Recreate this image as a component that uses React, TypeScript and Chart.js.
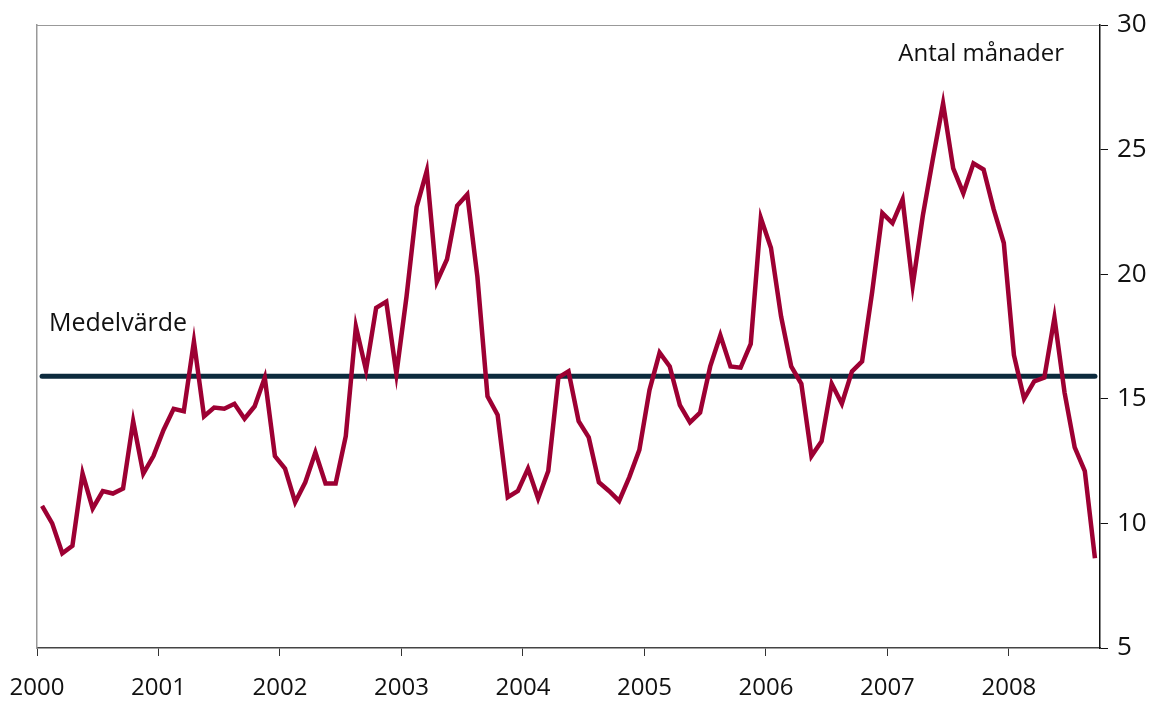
import React, { useEffect, useRef } from "react";
import { Chart, registerables } from "chart.js";

Chart.register(...registerables);

const yearLabels = ["2000", "2001", "2002", "2003", "2004", "2005", "2006", "2007", "2008"];
const yTicks = [5, 10, 15, 20, 25, 30];
const seriesLabel = "Antal månader";
const meanLabel = "Medelvärde";
const meanValue = 15.9;

// Monthly values, Jan 2000 .. Sep 2008
const values = [
  10.7, 10.0, 8.8, 9.1, 12.0, 10.6, 11.3, 11.2, 11.4, 14.1, 12.0, 12.7,
  13.75, 14.6, 14.5, 17.3, 14.3, 14.65, 14.6, 14.8, 14.2, 14.7, 15.85, 12.7,
  12.2, 10.85, 11.65, 12.85, 11.6, 11.6, 13.5, 17.9, 16.15, 18.65, 18.9, 16.0,
  19.1, 22.7, 24.15, 19.7, 20.6, 22.75, 23.2, 19.9, 15.1, 14.35, 11.05, 11.3,
  12.2, 11.0, 12.1, 15.85, 16.1, 14.1, 13.45, 11.65, 11.3, 10.9, 11.85, 12.95,
  15.35, 16.85, 16.3, 14.75, 14.05, 14.45, 16.3, 17.55, 16.3, 16.25, 17.2, 22.25,
  21.05, 18.3, 16.3, 15.6, 12.7, 13.3, 15.6, 14.8, 16.1, 16.5, 19.3, 22.45,
  22.05, 23.0, 19.55, 22.35, 24.65, 26.85, 24.25, 23.25, 24.45, 24.2, 22.6, 21.25,
  16.75, 15.0, 15.7, 15.85, 18.25, 15.25, 13.05, 12.1, 8.6,
];

const FONT = '"Open Sans", "DejaVu Sans", sans-serif';

export default function App() {
  const ref = useRef<HTMLCanvasElement | null>(null);

  useEffect(() => {
    if (!ref.current) return;
    const seriesPts = values.map((v, i) => ({ x: i + 0.5, y: v }));
    const meanPts = values.map((_, i) => ({ x: i + 0.5, y: meanValue }));

    const textPlugin = {
      id: "texts",
      afterDraw(chart: any) {
        const { ctx, chartArea } = chart;
        ctx.save();
        ctx.fillStyle = "#111";
        ctx.textBaseline = "alphabetic";
        ctx.font = `24px ${FONT}`;
        ctx.textAlign = "right";
        ctx.fillText(seriesLabel, chartArea.right - 36, chartArea.top + 36);
        ctx.font = `25px ${FONT}`;
        ctx.textAlign = "left";
        const yScale = chart.scales.y;
        ctx.fillText(meanLabel, chartArea.left + 12, yScale.getPixelForValue(meanValue) - 45);
        ctx.restore();
      },
    };

    const chart = new Chart(ref.current, {
      type: "line",
      data: {
        datasets: [
          {
            label: seriesLabel,
            data: seriesPts,
            borderColor: "#9d0033",
            borderWidth: 4.5,
            pointRadius: 0,
            tension: 0,
            fill: false,
          },
          {
            label: meanLabel,
            data: meanPts,
            borderColor: "#0c2a3d",
            borderWidth: 5,
            pointRadius: 0,
            tension: 0,
            fill: false,
            borderCapStyle: "round",
          },
        ],
      },
      options: {
        animation: false,
        responsive: false,
        devicePixelRatio: 1,
        layout: { padding: 0 },
        plugins: {
          legend: { display: false },
          tooltip: { enabled: false },
        },
        scales: {
          x: {
            type: "linear",
            position: "bottom",
            min: 0,
            max: values.length,
            afterBuildTicks: (scale: any) => {
              scale.ticks = yearLabels.map((_, i) => ({ value: i * 12 }));
            },
            afterFit: (scale: any) => {
              scale.height = 56;
              scale.paddingLeft = 0;
              scale.paddingRight = 0;
            },
            ticks: {
              autoSkip: false,
              maxRotation: 0,
              padding: 18,
              color: "#111",
              font: { family: FONT, size: 24 },
              callback: (v: any) => yearLabels[Math.round(Number(v) / 12)] ?? "",
            },
            grid: {
              drawOnChartArea: false,
              drawTicks: true,
              tickLength: 8,
              color: "#333",
              lineWidth: 1,
            },
            border: { display: true, color: "#444", width: 1.5 },
          },
          xTop: {
            type: "linear",
            position: "top",
            min: 0,
            max: values.length,
            afterFit: (scale: any) => {
              scale.height = 25;
              scale.paddingLeft = 0;
              scale.paddingRight = 0;
            },
            ticks: { display: false },
            grid: { display: false, drawTicks: false },
            border: { display: true, color: "#999", width: 1 },
          },
          y: {
            type: "linear",
            position: "right",
            min: 5,
            max: 30,
            afterBuildTicks: (scale: any) => {
              scale.ticks = yTicks.map((v) => ({ value: v }));
            },
            afterFit: (scale: any) => {
              scale.width = 58;
              scale.paddingTop = 0;
              scale.paddingBottom = 0;
            },
            ticks: {
              padding: 9,
              color: "#111",
              font: { family: FONT, size: 26 },
            },
            grid: {
              drawOnChartArea: false,
              drawTicks: true,
              tickLength: 8,
              color: "#111",
              lineWidth: 1,
            },
            border: { display: true, color: "#111", width: 1.5 },
          },
          yLeft: {
            type: "linear",
            position: "left",
            min: 5,
            max: 30,
            afterFit: (scale: any) => {
              scale.width = 37;
              scale.paddingTop = 0;
              scale.paddingBottom = 0;
            },
            ticks: { display: false },
            grid: { display: false, drawTicks: false },
            border: { display: true, color: "#999", width: 1.5 },
          },
        },
      },
      plugins: [textPlugin],
    } as any);

    return () => chart.destroy();
  }, []);

  return (
    <div style={{ position: "fixed", left: 0, top: 0, width: 1158, height: 704, background: "#fff" }}>
      <canvas ref={ref} width={1158} height={704} style={{ display: "block" }} />
    </div>
  );
}
